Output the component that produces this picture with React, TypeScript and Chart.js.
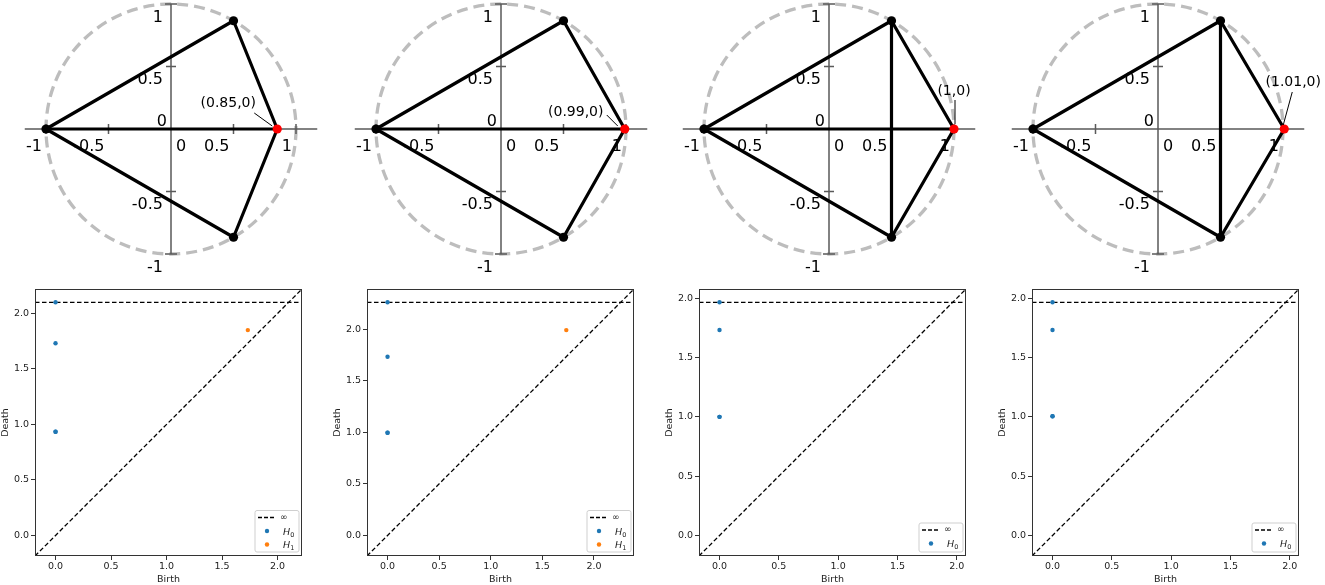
import React, { useEffect, useRef } from "react";
import { Chart, registerables } from "chart.js";

Chart.register(...registerables);

const FONT = "'DejaVu Sans', Verdana, sans-serif";

// ---------- Top row: point clouds ----------
const FIXED_X = [-1, 0.5, 0.5];
const FIXED_Y = [0, 0.866, -0.866];
const MOVING_X = [0.85, 0.99, 1.0, 1.01];
const MOVING_Y = [0, 0, 0, 0];
const MOVING_LABELS = ["(0.85,0)", "(0.99,0)", "(1,0)", "(1.01,0)"];
// edges as vertex index pairs (0..2 fixed points, 3 = moving point)
const EDGES_1 = [[0, 1], [1, 3], [3, 2], [2, 0], [0, 3]];
const EDGES_2 = [[0, 1], [1, 3], [3, 2], [2, 0], [0, 3]];
const EDGES_3 = [[0, 1], [1, 3], [3, 2], [2, 0], [0, 3], [1, 2]];
const EDGES_4 = [[0, 1], [1, 3], [3, 2], [2, 0], [1, 2]];
const EDGES = [EDGES_1, EDGES_2, EDGES_3, EDGES_4];
const CIRCLE_RADIUS = 1;
const AXIS_TICK_VALUES = [-1, -0.5, 0, 0.5, 1];
const AXIS_TICK_LABELS = ["-1", "-0.5", "0", "0.5", "1"];
const H_AXIS_EXTENT = 1.17;
const V_AXIS_EXTENT = 1;

// ---------- Bottom row: persistence diagrams ----------
const H0_BIRTH_1 = [0, 0, 0, 0];
const H0_DEATH_1 = [0.934, 0.934, 1.732, 2.1];
const H0_BIRTH_2 = [0, 0, 0, 0];
const H0_DEATH_2 = [0.995, 0.995, 1.732, 2.259];
const H0_BIRTH_3 = [0, 0, 0, 0];
const H0_DEATH_3 = [1.0, 1.0, 1.732, 1.966];
const H0_BIRTH_4 = [0, 0, 0, 0];
const H0_DEATH_4 = [1.005, 1.005, 1.732, 1.966];
const H1_BIRTH_1 = [1.732];
const H1_DEATH_1 = [1.85];
const H1_BIRTH_2 = [1.732];
const H1_DEATH_2 = [1.99];
const H0_BIRTHS = [H0_BIRTH_1, H0_BIRTH_2, H0_BIRTH_3, H0_BIRTH_4];
const H0_DEATHS = [H0_DEATH_1, H0_DEATH_2, H0_DEATH_3, H0_DEATH_4];
const H1_BIRTHS = [H1_BIRTH_1, H1_BIRTH_2, [], []];
const H1_DEATHS = [H1_DEATH_1, H1_DEATH_2, [], []];
const DGM_MIN = [-0.185, -0.199, -0.173, -0.173];
const DGM_MAX = [2.22, 2.388, 2.078, 2.078];
const INF_LEVEL = [2.1, 2.259, 1.966, 1.966];
const DGM_TICKS = [0, 0.5, 1, 1.5, 2];
const DGM_TICK_LABELS = ["0.0", "0.5", "1.0", "1.5", "2.0"];

// ---------- layout (pixels) ----------
const TOP_CENTERS = [171, 501, 829, 1158];
const TOP_CY = 129;
const PX_PER_UNIT = 125;
const TOP_W = 330;
const TOP_H = 280;
const ANNOT = [
  { tx: -49, ty: -26, a: [-23, -16], b: [-5, -3] },
  { tx: -49, ty: -17, a: [-18, -14], b: [-7, -3] },
  { tx: 0, ty: -38, a: [1, -29], b: [1, -5] },
  { tx: 9, ty: -47, a: [8, -37], b: [-1, -4] },
];
const BOX_LEFTS = [35, 367, 699, 1032];
const DGM_TOP = 280;
const DGM_W = 310;
const DGM_H = 305;

const topDecor = {
  id: "topDecor",
  beforeDatasetsDraw(chart: any) {
    const { ctx } = chart;
    const xs = chart.scales.x;
    const ys = chart.scales.y;
    const cx = xs.getPixelForValue(0);
    const cy = ys.getPixelForValue(0);
    const r = xs.getPixelForValue(CIRCLE_RADIUS) - cx;
    ctx.save();
    // dashed circle
    ctx.setLineDash([11, 6]);
    ctx.strokeStyle = "#bdbdbd";
    ctx.lineWidth = 3.3;
    ctx.beginPath();
    ctx.arc(cx, cy, r, 0, Math.PI * 2);
    ctx.stroke();
    ctx.setLineDash([]);
    // axes
    ctx.strokeStyle = "#5a5a5a";
    ctx.lineWidth = 1.5;
    ctx.beginPath();
    ctx.moveTo(xs.getPixelForValue(-H_AXIS_EXTENT), cy);
    ctx.lineTo(xs.getPixelForValue(H_AXIS_EXTENT), cy);
    ctx.moveTo(cx, ys.getPixelForValue(V_AXIS_EXTENT));
    ctx.lineTo(cx, ys.getPixelForValue(-V_AXIS_EXTENT));
    AXIS_TICK_VALUES.forEach((v) => {
      if (v === 0) return;
      const px = xs.getPixelForValue(v);
      const py = ys.getPixelForValue(v);
      const t = Math.abs(v) === 1 ? 6 : 5;
      ctx.moveTo(px, cy - 5);
      ctx.lineTo(px, cy + 5);
      ctx.moveTo(cx - t, py);
      ctx.lineTo(cx + t, py);
    });
    ctx.stroke();
    // labels
    ctx.fillStyle = "#000";
    ctx.font = `16px ${FONT}`;
    ctx.textBaseline = "alphabetic";
    AXIS_TICK_VALUES.forEach((v, i) => {
      const lab = AXIS_TICK_LABELS[i];
      const px = xs.getPixelForValue(v);
      const py = ys.getPixelForValue(v);
      if (v === 0) {
        ctx.textAlign = "left";
        ctx.fillText(lab, cx + 5, cy + 22);
        ctx.textAlign = "right";
        ctx.fillText(lab, cx - 4, cy - 3);
      } else {
        ctx.textAlign = "right";
        ctx.fillText(lab, px - 4, cy + 22);
        ctx.fillText(lab, cx - 8, py + 17.5);
      }
    });
    ctx.restore();
  },
  afterDatasetsDraw(chart: any, _args: any, opts: any) {
    const { ctx } = chart;
    const idx = opts.idx;
    const a = ANNOT[idx];
    const px = chart.scales.x.getPixelForValue(MOVING_X[idx]);
    const py = chart.scales.y.getPixelForValue(MOVING_Y[idx]);
    ctx.save();
    ctx.strokeStyle = "#000";
    ctx.lineWidth = 1;
    ctx.beginPath();
    ctx.moveTo(px + a.a[0], py + a.a[1]);
    ctx.lineTo(px + a.b[0], py + a.b[1]);
    ctx.stroke();
    ctx.fillStyle = "#000";
    ctx.font = `14px ${FONT}`;
    ctx.textAlign = "center";
    ctx.textBaseline = "middle";
    ctx.fillText(MOVING_LABELS[idx], px + a.tx, py + a.ty);
    ctx.restore();
  },
};

function TopPanel({ idx }: { idx: number }) {
  const ref = useRef<HTMLCanvasElement | null>(null);
  useEffect(() => {
    const pts = FIXED_X.map((x, i) => ({ x, y: FIXED_Y[i] }));
    pts.push({ x: MOVING_X[idx], y: MOVING_Y[idx] });
    const edgeSets = EDGES[idx].map(([a, b]) => ({
      data: [pts[a], pts[b]],
      showLine: true,
      borderColor: "#000",
      borderWidth: 3.2,
      borderCapStyle: "round",
      pointRadius: 0,
    }));
    const half = TOP_W / 2 / PX_PER_UNIT;
    const chart = new Chart(ref.current as HTMLCanvasElement, {
      type: "scatter",
      data: {
        datasets: [
          {
            data: [pts[3]],
            backgroundColor: "#ff0000",
            borderColor: "#ff0000",
            borderWidth: 0,
            pointRadius: 4.6,
          },
          {
            data: pts.slice(0, 3),
            backgroundColor: "#000",
            borderColor: "#000",
            borderWidth: 0,
            pointRadius: 4.6,
          },
          ...edgeSets,
        ] as any,
      },
      options: {
        animation: false,
        responsive: false,
        events: [],
        layout: { padding: 0, autoPadding: false },
        plugins: {
          legend: { display: false },
          tooltip: { enabled: false },
          topDecor: { idx },
        } as any,
        scales: {
          x: { type: "linear", display: false, min: -half, max: half },
          y: {
            type: "linear",
            display: false,
            min: -(TOP_H - TOP_CY) / PX_PER_UNIT,
            max: TOP_CY / PX_PER_UNIT,
          },
        },
      },
      plugins: [topDecor as any],
    });
    return () => chart.destroy();
  }, [idx]);
  return (
    <canvas
      ref={ref}
      width={TOP_W}
      height={TOP_H}
      style={{
        position: "absolute",
        left: TOP_CENTERS[idx] - TOP_W / 2,
        top: 0,
        width: TOP_W,
        height: TOP_H,
      }}
    />
  );
}

const dgmDecor = {
  id: "dgmDecor",
  afterDraw(chart: any) {
    const { ctx, chartArea } = chart;
    const { left, top, right, bottom } = chartArea;
    ctx.save();
    ctx.strokeStyle = "#333";
    ctx.lineWidth = 1;
    ctx.strokeRect(left + 0.5, top + 0.5, right - left - 1, bottom - top - 1);

    const entries = chart.data.datasets
      .filter((d: any) => d.legendRank !== undefined && d.data.length > 0)
      .sort((a: any, b: any) => a.legendRank - b.legendRank);
    const n = entries.length;
    const w = 44;
    const h = 4 + 12.5 * n;
    const bx = right - 3 - w;
    const by = bottom - 4 - h;
    ctx.beginPath();
    const rr = 2;
    ctx.moveTo(bx + rr, by);
    ctx.lineTo(bx + w - rr, by);
    ctx.quadraticCurveTo(bx + w, by, bx + w, by + rr);
    ctx.lineTo(bx + w, by + h - rr);
    ctx.quadraticCurveTo(bx + w, by + h, bx + w - rr, by + h);
    ctx.lineTo(bx + rr, by + h);
    ctx.quadraticCurveTo(bx, by + h, bx, by + h - rr);
    ctx.lineTo(bx, by + rr);
    ctx.quadraticCurveTo(bx, by, bx + rr, by);
    ctx.closePath();
    ctx.fillStyle = "rgba(255,255,255,0.85)";
    ctx.fill();
    ctx.strokeStyle = "#cfcfcf";
    ctx.lineWidth = 1;
    ctx.stroke();

    entries.forEach((d: any, k: number) => {
      const yy = by + 7 + 13.5 * k;
      if (d.showLine) {
        ctx.strokeStyle = "#000";
        ctx.lineWidth = 1.6;
        ctx.setLineDash([4, 2]);
        ctx.beginPath();
        ctx.moveTo(bx + 3, yy);
        ctx.lineTo(bx + 20, yy);
        ctx.stroke();
        ctx.setLineDash([]);
        ctx.fillStyle = "#222";
        ctx.font = `9px ${FONT}`;
        ctx.textAlign = "left";
        ctx.textBaseline = "middle";
        ctx.fillText(d.label, bx + 25, yy);
      } else {
        ctx.fillStyle = d.backgroundColor;
        ctx.beginPath();
        ctx.arc(bx + 12, yy, 2.2, 0, Math.PI * 2);
        ctx.fill();
        const main = d.label.charAt(0);
        const sub = d.label.slice(1);
        ctx.fillStyle = "#222";
        ctx.textAlign = "left";
        ctx.textBaseline = "alphabetic";
        ctx.font = `italic 9.5px ${FONT}`;
        ctx.fillText(main, bx + 28, yy + 3.5);
        const mw = ctx.measureText(main).width;
        ctx.font = `6.5px ${FONT}`;
        ctx.fillText(sub, bx + 28 + mw, yy + 5.5);
      }
    });
    ctx.restore();
  },
};

function DiagramPanel({ idx }: { idx: number }) {
  const ref = useRef<HTMLCanvasElement | null>(null);
  useEffect(() => {
    const lo = DGM_MIN[idx];
    const hi = DGM_MAX[idx];
    const inf = INF_LEVEL[idx];
    const h0 = H0_BIRTHS[idx].map((b, i) => ({ x: b, y: H0_DEATHS[idx][i] }));
    const h1 = H1_BIRTHS[idx].map((b, i) => ({ x: b, y: H1_DEATHS[idx][i] }));
    const tickFont = { family: FONT, size: 9.5 };
    const setTicks = (axis: any) => {
      axis.ticks = DGM_TICKS.map((v) => ({ value: v }));
    };
    const tickLabel = (v: any) => {
      const i = DGM_TICKS.findIndex((t) => Math.abs(t - Number(v)) < 1e-9);
      return i >= 0 ? DGM_TICK_LABELS[i] : "";
    };
    const axisGrid = {
      display: true,
      drawOnChartArea: false,
      drawTicks: true,
      tickLength: 4,
      tickColor: "#333",
      tickWidth: 1,
    };
    const chart = new Chart(ref.current as HTMLCanvasElement, {
      type: "scatter",
      data: {
        datasets: [
          {
            label: "H0",
            legendRank: 1,
            data: h0,
            backgroundColor: "#1f77b4",
            borderColor: "#1f77b4",
            borderWidth: 0,
            pointRadius: 2.2,
          },
          {
            label: "H1",
            legendRank: 2,
            data: h1,
            backgroundColor: "#ff7f0e",
            borderColor: "#ff7f0e",
            borderWidth: 0,
            pointRadius: 2.2,
          },
          {
            label: "∞",
            legendRank: 0,
            data: [
              { x: lo, y: inf },
              { x: hi, y: inf },
            ],
            showLine: true,
            borderColor: "#000",
            borderWidth: 1.3,
            borderDash: [4.5, 2.5],
            pointRadius: 0,
          },
          {
            label: "diagonal",
            data: [
              { x: lo, y: lo },
              { x: hi, y: hi },
            ],
            showLine: true,
            borderColor: "#000",
            borderWidth: 1.3,
            borderDash: [4.5, 2.5],
            pointRadius: 0,
          },
        ] as any,
      },
      options: {
        animation: false,
        responsive: false,
        events: [],
        layout: { padding: { left: 0, top: 9, right: 8, bottom: 0 }, autoPadding: false },
        plugins: { legend: { display: false }, tooltip: { enabled: false } },
        scales: {
          x: {
            type: "linear",
            min: lo,
            max: hi,
            afterBuildTicks: setTicks,
            afterFit: (s: any) => {
              s.height = 29;
            },
            grid: axisGrid,
            border: { display: false },
            ticks: {
              autoSkip: false,
              maxRotation: 0,
              padding: 1,
              color: "#222",
              font: tickFont,
              callback: tickLabel,
            },
            title: { display: true, text: "Birth", color: "#222", font: tickFont, padding: 0 },
          },
          y: {
            type: "linear",
            min: lo,
            max: hi,
            afterBuildTicks: setTicks,
            afterFit: (s: any) => {
              s.width = 35;
            },
            grid: axisGrid,
            border: { display: false },
            ticks: {
              autoSkip: false,
              padding: 2,
              color: "#222",
              font: tickFont,
              callback: tickLabel,
            },
            title: { display: true, text: "Death", color: "#222", font: tickFont, padding: 0 },
          },
        },
      } as any,
      plugins: [dgmDecor as any],
    });
    return () => chart.destroy();
  }, [idx]);
  return (
    <canvas
      ref={ref}
      width={DGM_W}
      height={DGM_H}
      style={{
        position: "absolute",
        left: BOX_LEFTS[idx] - 35,
        top: DGM_TOP,
        width: DGM_W,
        height: DGM_H,
      }}
    />
  );
}

export default function App() {
  return (
    <div
      style={{
        position: "absolute",
        left: 0,
        top: 0,
        width: 1325,
        height: 585,
        background: "#fff",
        overflow: "hidden",
      }}
    >
      {[0, 1, 2, 3].map((i) => (
        <TopPanel key={"t" + i} idx={i} />
      ))}
      {[0, 1, 2, 3].map((i) => (
        <DiagramPanel key={"d" + i} idx={i} />
      ))}
    </div>
  );
}
